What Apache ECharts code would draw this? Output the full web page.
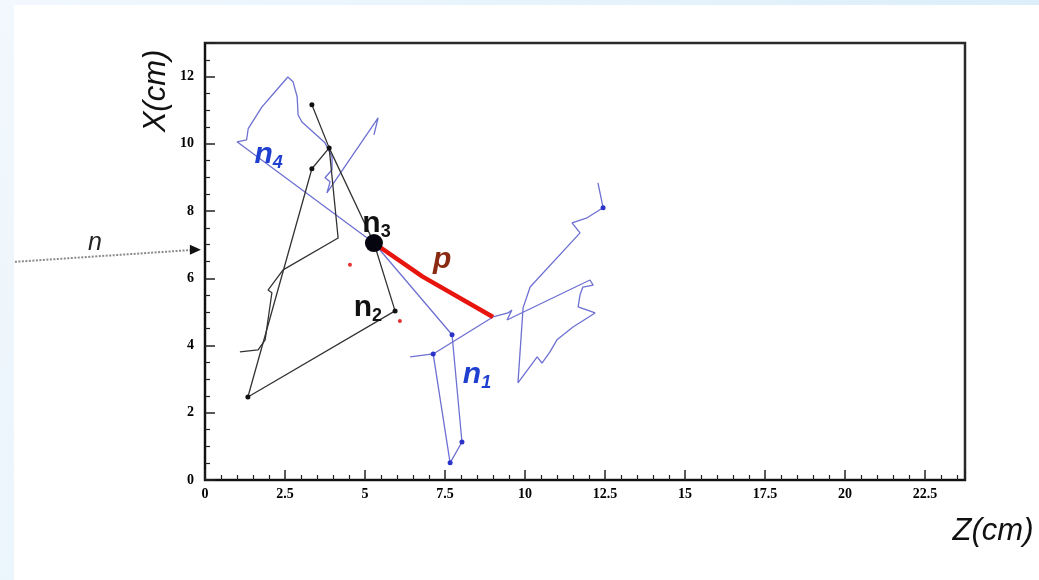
<!DOCTYPE html>
<html>
<head>
<meta charset="utf-8">
<script src="https://cdn.jsdelivr.net/npm/echarts@6/dist/echarts.min.js"></script>
<style>
    html, body {margin:0; padding:0; width:1039px; height:580px; overflow:hidden;}
    body {background:linear-gradient(120deg, #f2f8fd 0%, #e4f2fb 50%, #d3ebf9 100%); position:relative;}
    #paper {position:absolute; left:14px; top:5px; right:0; bottom:0; background:#fff;}
    #main {position:absolute; left:0; top:0; width:1039px; height:580px;}
</style>
</head>
<body>
<div id="paper"></div>
<div id="main"></div>
<script>
// tick labels
const xTicks = [0, 2.5, 5, 7.5, 10, 12.5, 15, 17.5, 20, 22.5];
const yTicks = [0, 2, 4, 6, 8, 10, 12];

// interaction vertex (n3)
const vertex = [[5.28, 7.05]];

// incoming neutron (drawn outside the frame)
const incoming = [[-5.94, 6.49], [-0.45, 6.84]];
const incomingHead = [[-0.3, 6.85]];

// proton track
const protonTrack = [[5.28, 7.05], [6.8, 6.05], [9.0, 4.85]];
const redHits = [[4.53, 6.40], [6.09, 4.73]];

// blue tracks
const n4Track = [[5.28, 7.05], [1.0, 10.06], [1.3, 10.12], [1.35, 10.45], [1.78, 11.10], [2.19, 11.55],
    [2.59, 11.99], [2.75, 11.85], [2.88, 11.40], [2.91, 10.86], [3.03, 10.65], [3.75, 10.03],
    [3.97, 9.61], [3.97, 9.23], [3.75, 8.99], [3.91, 8.87], [3.81, 8.54], [5.41, 10.77], [5.28, 10.27]];
const n1Track = [[5.28, 7.05], [7.72, 4.32], [8.03, 1.13], [7.66, 0.51], [7.13, 3.75]];
const n1Branch = [[6.41, 3.66], [7.13, 3.75], [9.0, 4.85], [9.47, 4.97], [9.59, 5.06], [9.44, 4.76],
    [9.63, 4.85], [12.03, 5.95], [12.13, 5.80], [11.81, 5.74], [11.72, 5.51], [11.66, 5.15],
    [12.19, 4.97], [11.5, 4.55], [11.0, 4.17], [10.78, 3.81], [10.53, 3.48], [10.38, 3.66],
    [9.78, 2.89], [9.94, 5.12], [10.16, 5.74], [11.72, 7.35], [11.47, 7.65], [11.94, 7.80],
    [12.44, 8.10], [12.28, 8.84]];
const blueDots = [[7.72, 4.32], [8.03, 1.13], [7.66, 0.51], [7.13, 3.75], [12.44, 8.10]];

// black tracks
const n2Track = [[5.28, 7.05], [5.94, 5.03], [1.34, 2.47], [3.34, 9.26], [3.88, 9.88]];
const n3Track = [[5.28, 7.05], [3.88, 9.88], [3.34, 11.16]];
const n3Branch = [[3.88, 9.88], [4.16, 7.20], [2.44, 6.25], [1.97, 5.65], [2.09, 5.57], [1.88, 4.17],
    [1.66, 3.87], [1.09, 3.81]];
const blackDots = [[3.34, 11.16], [3.88, 9.88], [3.34, 9.26], [1.34, 2.47], [5.94, 5.03]];

// text labels: [x, y, name, subscript, colour, italic]
const labels = [
    [-3.44, 7.05, 'n', '', '#222', true],
    [1.99, 9.67, 'n', '4', '#1f3fd0', true],
    [5.36, 7.62, 'n', '3', '#111', false],
    [7.41, 6.55, 'p', '', '#8b2a12', true],
    [5.09, 5.12, 'n', '2', '#111', false],
    [8.5, 3.13, 'n', '1', '#1f3fd0', true]
];

const BLUE = '#6e70d2';
const BLACK = '#333';

const trackLine = (data, color, width) => ({
    type: 'line',
    data: data,
    symbol: 'none',
    lineStyle: {color: color, width: width || 1.3},
    silent: true,
    z: 2
});

const dots = (data, color, size) => ({
    type: 'scatter',
    data: data,
    symbolSize: size || 5,
    itemStyle: {color: color, opacity: 1},
    z: 3
});

const labelSeries = {
    type: 'scatter',
    symbolSize: 0,
    z: 5,
    clip: false,
    itemStyle: {opacity: 1},
    data: labels.map(([x, y, t, s, c, it]) => ({
        value: [x, y],
        label: {
            show: true,
            position: 'inside',
            formatter: s ? `{a|${t}}{b|${s}}` : `{a|${t}}`,
            rich: {
                a: {fontSize: 30, fontWeight: 'bold', fontStyle: it ? 'italic' : 'normal',
                    fontFamily: 'Liberation Sans', color: c},
                b: {fontSize: 18, fontWeight: 'bold', fontStyle: it ? 'italic' : 'normal',
                    fontFamily: 'Liberation Sans', color: c, padding: [16, 0, 0, 0]}
            }
        }
    }))
};
labelSeries.data[0].label.rich.a.fontWeight = 'normal';
labelSeries.data[0].label.rich.a.fontSize = 25;

const chart = echarts.init(document.getElementById('main'), null, {renderer: 'canvas'});

const axisCommon = {
    type: 'value',
    axisLine: {show: true, onZero: false, lineStyle: {color: '#111', width: 2}},
    axisTick: {show: true, inside: true, length: 10, lineStyle: {color: '#222', width: 1.5}},
    minorTick: {show: true, length: 5, lineStyle: {color: '#222', width: 1.2}},
    splitLine: {show: false},
    axisLabel: {color: '#000', fontWeight: 'bold', fontSize: 14, fontFamily: 'Liberation Serif',
        showMaxLabel: false}
};

chart.setOption({
    animation: false,
    backgroundColor: 'transparent',
    grid: {left: 205, right: 74, top: 43, bottom: 100, show: true, borderColor: '#2a2a2a', borderWidth: 2.5,
        backgroundColor: 'transparent'},
    xAxis: Object.assign({}, axisCommon, {
        min: 0, max: 23.75, interval: xTicks[1] - xTicks[0],
        minorTick: Object.assign({}, axisCommon.minorTick, {splitNumber: 5}),
        axisLabel: Object.assign({}, axisCommon.axisLabel, {margin: 7})
    }),
    yAxis: Object.assign({}, axisCommon, {
        min: 0, max: 13, interval: yTicks[1] - yTicks[0],
        minorTick: Object.assign({}, axisCommon.minorTick, {splitNumber: 4}),
        axisLabel: Object.assign({}, axisCommon.axisLabel, {margin: 11})
    }),
    graphic: [
        {type: 'text', x: 156, y: 91, rotation: Math.PI / 2,
            style: {text: 'X(cm)', font: 'italic 31px "Liberation Sans"', fill: '#111',
                align: 'center', verticalAlign: 'middle'}},
        {type: 'text', x: 993, y: 531,
            style: {text: 'Z(cm)', font: 'italic 31px "Liberation Sans"', fill: '#111',
                align: 'center', verticalAlign: 'middle'}}
    ],
    series: [
        {
            type: 'custom',
            coordinateSystem: 'cartesian2d',
            clip: false,
            silent: true,
            data: incoming,
            renderItem: (params, api) => {
                if (params.dataIndex !== 0) return null;
                return {
                    type: 'polyline',
                    shape: {points: incoming.map(p => api.coord(p))},
                    style: {stroke: '#8a8a8a', lineWidth: 2, lineDash: [2, 1.5], fill: null}
                };
            }
        },
        {type: 'scatter', data: incomingHead, clip: false, symbol: 'triangle', symbolRotate: -90,
            symbolSize: [10, 11], itemStyle: {color: '#111', opacity: 1}},
        trackLine(n4Track, BLUE),
        trackLine(n1Track, BLUE),
        trackLine(n1Branch, BLUE),
        trackLine(n2Track, BLACK),
        trackLine(n3Track, BLACK),
        trackLine(n3Branch, BLACK),
        Object.assign(trackLine(protonTrack, '#e8140e', 4.5), {z: 4}),
        dots(blueDots, '#2a33c8', 5),
        dots(blackDots, '#111', 5),
        dots(redHits, '#e83030', 4),
        Object.assign(dots(vertex, '#05050f', 18), {z: 6}),
        labelSeries
    ]
});
</script>
</body>
</html>
